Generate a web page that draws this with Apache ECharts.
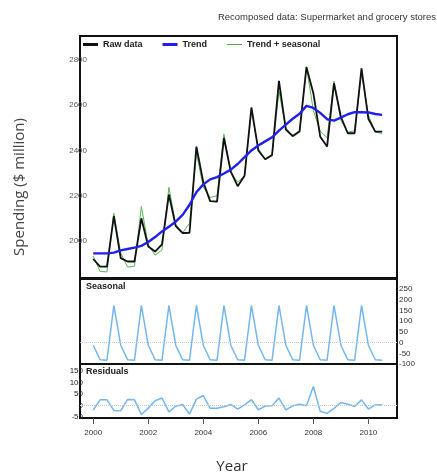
<!DOCTYPE html>
<html><head><meta charset="utf-8">
<script src="https://cdn.jsdelivr.net/npm/echarts@6/dist/echarts.min.js"></script>
<style>html,body{margin:0;padding:0;background:#fff}#c{width:437px;height:476px}</style>
</head><body><div id="c"></div>
<script>
const quarters = [2000, 2000.25, 2000.5, 2000.75, 2001, 2001.25, 2001.5, 2001.75,
  2002, 2002.25, 2002.5, 2002.75, 2003, 2003.25, 2003.5, 2003.75,
  2004, 2004.25, 2004.5, 2004.75, 2005, 2005.25, 2005.5, 2005.75,
  2006, 2006.25, 2006.5, 2006.75, 2007, 2007.25, 2007.5, 2007.75,
  2008, 2008.25, 2008.5, 2008.75, 2009, 2009.25, 2009.5, 2009.75,
  2010, 2010.25, 2010.5];
const rawData = [1920, 1886, 1886, 2110, 1924, 1909, 1909, 2100,
  1975, 1953, 1985, 2205, 2065, 2035, 2036, 2417,
  2260, 2176, 2174, 2455, 2306, 2242, 2288, 2590,
  2400, 2361, 2380, 2708, 2492, 2464, 2485, 2768,
  2653, 2461, 2417, 2697, 2549, 2476, 2476, 2763,
  2540, 2483, 2483];
const trend = [1945, 1945, 1945, 1948, 1958, 1964, 1970, 1978,
  1995, 2017, 2042, 2063, 2085, 2115, 2160, 2215,
  2250, 2272, 2282, 2298, 2315, 2340, 2370, 2400,
  2422, 2440, 2458, 2488, 2514, 2540, 2562, 2597,
  2588, 2566, 2538, 2532, 2545, 2560, 2569, 2569,
  2568, 2561, 2557];
const trendSeasonal = [1933, 1865, 1863, 2122, 1946, 1884, 1888, 2152,
  1983, 1937, 1960, 2237, 2073, 2035, 2078, 2389,
  2238, 2192, 2200, 2472, 2303, 2260, 2288, 2574,
  2410, 2360, 2376, 2662, 2502, 2460, 2480, 2771,
  2576, 2486, 2456, 2706, 2533, 2480, 2487, 2743,
  2556, 2481, 2475];
const seasonal = [-12, -80, -82, 174, -12, -80, -82, 174,
  -12, -80, -82, 174, -12, -80, -82, 174,
  -12, -80, -82, 174, -12, -80, -82, 174,
  -12, -80, -82, 174, -12, -80, -82, 174,
  -12, -80, -82, 174, -12, -80, -82, 174,
  -12, -80, -82];
const residuals = [-20, 24, 24, -22, -24, 26, 24, -40,
  -12, 20, 32, -28, -4, 4, -38, 27,
  43, -13, -13, -6, 4, -16, 2, 25,
  -19, -3, -2, 32, -20, -2, 5, -2,
  82, -26, -35, -13, 12, 5, -5, 24,
  -16, 2, 3];
const yearTicks = [2000, 2002, 2004, 2006, 2008, 2010];
const mainTicks = [2000, 2200, 2400, 2600, 2800];
const seasonalTicks = [-100, -50, 0, 50, 100, 150, 200, 250];
const residualTicks = [-50, 0, 50, 100, 150];

const pair = arr => arr.map((v, i) => [quarters[i], v]);
const XMIN = 1999.52, XMAX = 2011.04;
const FONT = 'Liberation Sans, Arial, sans-serif';
const plain = v => String(v);

function xAxis(gi, bottom) {
  return {
    type: 'value', gridIndex: gi, min: XMIN, max: XMAX, position: 'bottom',
    axisLine: { show: false, onZero: false },
    splitLine: { show: false },
    axisTick: bottom ? { show: true, customValues: yearTicks, length: 6, lineStyle: { color: '#555', width: 1 } } : { show: false },
    axisLabel: bottom ? { show: true, customValues: yearTicks, formatter: plain, fontSize: 8, color: '#333', margin: 11, fontFamily: FONT } : { show: false }
  };
}
const zeroLine = {
  silent: true, symbol: 'none', label: { show: false },
  lineStyle: { color: '#c8c8c8', type: 'dotted', width: 1 },
  data: [{ yAxis: 0 }]
};

const chart = echarts.init(document.getElementById('c'), null, { renderer: 'canvas' });
chart.setOption({
  animation: false,
  backgroundColor: '#fff',
  grid: [
    { left: 80, width: 317, top: 36, height: 242, show: true, borderColor: '#111', borderWidth: 2, backgroundColor: 'transparent' },
    { left: 80, width: 317, top: 279, height: 85, show: true, borderColor: '#111', borderWidth: 2, backgroundColor: 'transparent' },
    { left: 80, width: 317, top: 364, height: 54, show: true, borderColor: '#111', borderWidth: 2, backgroundColor: 'transparent' }
  ],
  xAxis: [xAxis(0, false), xAxis(1, false), xAxis(2, true)],
  yAxis: [
    { type: 'value', gridIndex: 0, min: 1836, max: 2906, position: 'left',
      axisLine: { show: false, onZero: false }, axisTick: { show: false }, splitLine: { show: false },
      axisLabel: { customValues: mainTicks, formatter: plain, fontSize: 8, color: '#555', margin: -7, fontFamily: FONT } },
    { type: 'value', gridIndex: 1, min: -100, max: 298, position: 'right',
      axisLine: { show: false, onZero: false }, axisTick: { show: false }, splitLine: { show: false },
      axisLabel: { customValues: seasonalTicks, formatter: plain, fontSize: 8, color: '#333', margin: 2, fontFamily: FONT } },
    { type: 'value', gridIndex: 2, min: -55, max: 180, position: 'left',
      axisLine: { show: false, onZero: false }, axisTick: { show: false }, splitLine: { show: false },
      axisLabel: { customValues: residualTicks, formatter: plain, fontSize: 8, color: '#222', margin: -3, fontFamily: FONT } }
  ],
  legend: {
    left: 83, top: 40, padding: 0, itemWidth: 15, itemHeight: 3, itemGap: 20,
    data: [
      { name: 'Raw data', icon: 'rect', itemStyle: { color: '#111' } },
      { name: 'Trend', icon: 'rect', itemStyle: { color: '#1f1ff0' } },
      { name: 'Trend + seasonal', icon: 'path://M0,1 L15,1 L15,2 L0,2 Z M0,0 M0,3', itemStyle: { color: '#4caf47' } }
    ],
    textStyle: { fontSize: 9, fontWeight: 'bold', color: '#222', fontFamily: FONT }
  },
  series: [
    { name: 'Trend + seasonal', type: 'line', xAxisIndex: 0, yAxisIndex: 0, data: pair(trendSeasonal),
      symbol: 'none', lineStyle: { color: '#55b74f', width: 1 }, itemStyle: { color: '#55b74f' } },
    { name: 'Raw data', type: 'line', xAxisIndex: 0, yAxisIndex: 0, data: pair(rawData),
      symbol: 'none', lineStyle: { color: '#111', width: 1.8 }, itemStyle: { color: '#111' } },
    { name: 'Trend', type: 'line', xAxisIndex: 0, yAxisIndex: 0, data: pair(trend),
      symbol: 'none', lineStyle: { color: '#1f1ff0', width: 2.4 }, itemStyle: { color: '#1f1ff0' } },
    { name: 'Seasonal', type: 'line', xAxisIndex: 1, yAxisIndex: 1, data: pair(seasonal),
      symbol: 'none', lineStyle: { color: '#74b6f2', width: 1.5 }, markLine: zeroLine },
    { name: 'Residuals', type: 'line', xAxisIndex: 2, yAxisIndex: 2, data: pair(residuals),
      symbol: 'none', lineStyle: { color: '#74b6f2', width: 1.5 }, markLine: zeroLine }
  ],
  graphic: [
    { type: 'text', right: 1, top: 12, style: { text: 'Recomposed data: Supermarket and grocery stores', fontSize: 9.5, fill: '#333', fontFamily: FONT } },
    { type: 'text', left: 86, top: 282, style: { text: 'Seasonal', fontSize: 9, fontWeight: 'bold', fill: '#222', fontFamily: FONT } },
    { type: 'text', left: 86, top: 367, style: { text: 'Residuals', fontSize: 9, fontWeight: 'bold', fill: '#222', fontFamily: FONT } },
    { type: 'text', x: 20, y: 187, rotation: Math.PI / 2,
      style: { text: 'Spending ($ million)', fontSize: 15, fill: '#444', fontFamily: 'Open Sans, sans-serif', align: 'center', verticalAlign: 'middle' } },
    { type: 'text', x: 232, y: 467,
      style: { text: 'Year', fontSize: 15, fill: '#333', fontFamily: 'Open Sans, sans-serif', align: 'center', verticalAlign: 'middle' } }
  ]
});
</script>
</body></html>
